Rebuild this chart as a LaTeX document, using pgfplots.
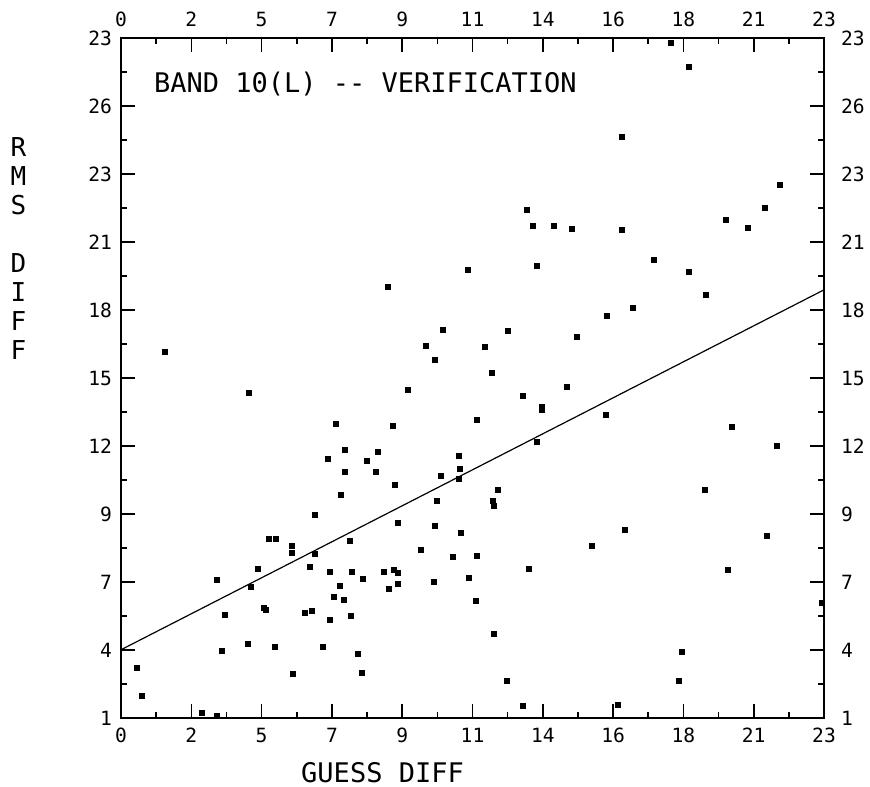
\documentclass[border=0pt]{standalone}
\usepackage{fontspec}
\usepackage{pgfplots}
\pgfplotsset{compat=1.18}
\setmainfont{DejaVu Sans Mono}
\pgfplotsset{
  basestyle/.style={
    width=351.5pt, height=340pt, scale only axis,
    xmin=0, xmax=23, ymin=1, ymax=29,
    xtick={0,2.3,4.6,6.9,9.2,11.5,13.8,16.1,18.4,20.7,23},
    xticklabels={0,2,5,7,9,11,14,16,18,21,23},
    ytick={1,3.8,6.6,9.4,12.2,15,17.8,20.6,23.4,26.2,29},
    yticklabels={1,4,7,9,12,15,18,21,23,26,23},
    minor x tick num=1, minor y tick num=1,
    tick align=inside, major tick length=7pt, minor tick length=3pt,
    axis line style={line width=1.1pt, black},
    every tick/.style={line width=0.8pt, black},
    tick label style={font=\fontsize{9.8}{11}\selectfont},
    /pgf/number format/assume math mode=true,
  }
}
\begin{document}
\begin{tikzpicture}
\path[use as bounding box] (-60.5pt,-34pt) rectangle (374.5pt,359pt);
\begin{axis}[basestyle,
  xticklabel style={yshift=-1.5pt},
  yticklabel style={xshift=-1pt},
  xlabel={GUESS DIFF},
  every axis x label/.style={at={(axis description cs:0.372,-0.08)}, anchor=center, font=\fontsize{13.5}{16}\selectfont},
  ylabel={R\\M\\S\\[14.5pt]D\\I\\F\\F},
  every axis y label/.style={at={(axis description cs:-0.146,0.69)}, anchor=center, align=center, font=\fontsize{13}{14.5}\selectfont},
]
\addplot[only marks, mark=square*, mark size=1.25pt, black] table {
x y
1.44 16.07
13.29 21.92
13.47 21.26
14.16 21.27
14.75 21.14
11.36 19.45
13.61 19.60
8.73 18.75
10.53 16.99
12.66 16.94
14.91 16.68
9.97 16.33
11.92 16.28
10.26 15.73
12.15 15.22
17.98 28.78
18.57 27.82
16.39 24.94
21.57 22.96
21.07 22.00
19.78 21.49
20.50 21.19
16.38 21.08
17.43 19.86
18.59 19.36
19.13 18.42
16.76 17.87
15.89 17.57
4.19 14.37
7.03 13.13
7.34 12.04
6.78 11.66
7.31 11.14
7.20 10.18
6.34 9.37
4.83 8.38
5.07 8.38
5.58 8.09
5.59 7.81
7.50 8.28
6.35 7.75
4.49 7.14
6.18 7.22
6.82 7.01
7.57 7.01
3.15 6.68
4.26 6.41
7.17 6.44
6.95 5.99
7.29 5.85
4.68 5.53
4.74 5.45
3.39 5.23
6.02 5.34
6.26 5.39
6.84 5.04
7.52 5.20
4.16 4.06
3.29 3.76
5.04 3.92
6.62 3.94
0.52 3.07
5.64 2.82
0.70 1.93
2.66 1.22
3.15 1.09
9.40 14.51
14.58 14.64
13.14 14.26
13.78 13.82
13.78 13.68
8.89 13.02
11.66 13.27
13.62 12.35
8.39 11.97
8.05 11.59
11.04 11.79
8.33 11.14
11.10 11.25
10.47 10.96
11.05 10.83
8.97 10.58
12.32 10.40
12.16 9.96
12.20 9.74
10.32 9.92
9.05 9.03
10.26 8.91
11.12 8.61
9.81 7.93
10.85 7.64
11.65 7.66
13.33 7.16
8.59 7.02
8.93 7.11
9.07 6.97
7.92 6.74
9.07 6.53
8.78 6.31
10.23 6.61
11.38 6.78
11.60 5.83
12.19 4.45
7.76 3.66
7.89 2.87
12.62 2.54
13.14 1.49
15.40 8.07
15.87 13.48
19.98 12.99
21.46 12.20
19.11 10.40
16.50 8.75
21.14 8.51
19.85 7.09
22.93 5.75
18.34 3.72
18.25 2.54
16.27 1.54
};
\addplot[black, line width=0.6pt] coordinates {(0,3.81) (23,18.63)};
\node[anchor=west, font=\fontsize{13.5}{16}\selectfont] at (axis cs:0.85,27.1) {BAND 10(L) -{}- VERIFICATION};
\end{axis}
\begin{axis}[basestyle,
  xticklabel pos=top, yticklabel pos=right,
  xticklabel style={yshift=2pt},
  yticklabel style={xshift=5pt},
]
\end{axis}
\end{tikzpicture}
\end{document}
